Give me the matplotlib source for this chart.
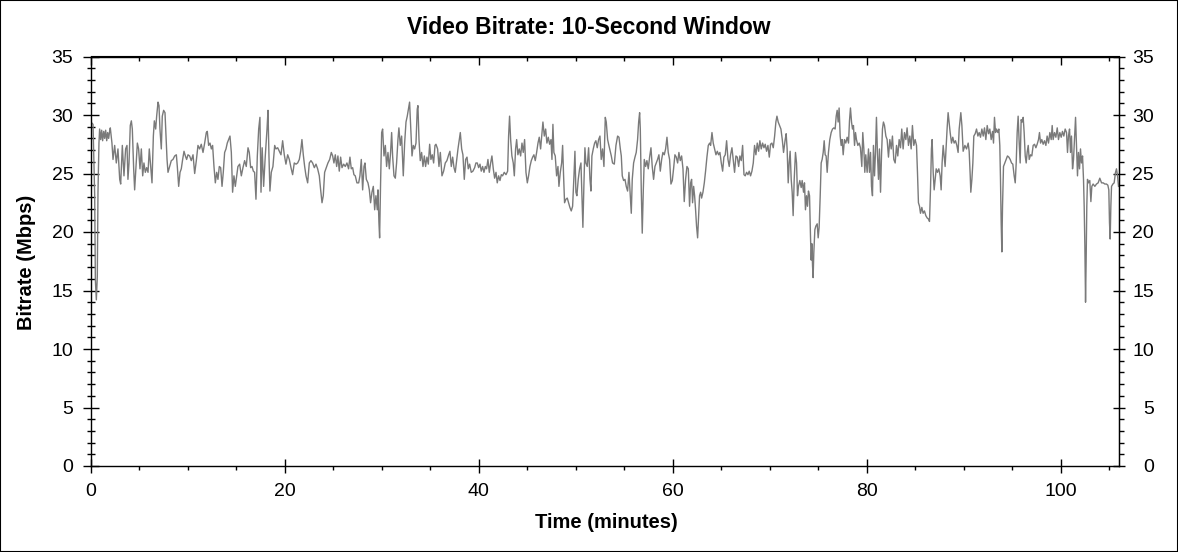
import numpy as np
import matplotlib.pyplot as plt
from matplotlib.ticker import MultipleLocator
from matplotlib.patches import Rectangle

plt.rcParams['font.family'] = ['Liberation Sans', 'DejaVu Sans']

# bitrate readings (minutes, Mbps) in six stretches
part1_min = [0.10, 0.21, 0.38, 0.45, 0.55, 0.65, 0.72, 0.82, 0.89, 1.00,
             1.10, 1.20, 1.31, 1.41, 1.51, 1.62, 1.72, 1.82, 1.92, 1.99,
             2.16, 2.27, 2.44, 2.61, 2.78, 2.96, 3.06, 3.23, 3.40, 3.57,
             3.71, 3.81, 3.92, 4.05, 4.16, 4.26, 4.40, 4.50, 4.64, 4.78,
             4.91, 5.05, 5.19, 5.33, 5.46, 5.60, 5.74, 5.88, 6.01, 6.15,
             6.29, 6.43, 6.53, 6.67, 6.77, 6.91, 7.01, 7.11, 7.25, 7.35,
             7.49, 7.63, 7.73, 7.84, 7.94, 8.11, 8.28, 8.45, 8.63, 8.80,
             8.90, 9.04, 9.18, 9.31, 9.45, 9.59, 9.73, 9.86, 10.00, 10.17,
             10.34, 10.52, 10.69, 10.86, 11.03, 11.20, 11.37, 11.55, 11.72, 11.89,
             11.99, 12.13, 12.27, 12.41, 12.54, 12.68, 12.82, 12.96, 13.09, 13.23,
             13.37, 13.51, 13.64, 13.78, 13.92, 14.05, 14.19, 14.33, 14.47, 14.60,
             14.74, 14.88, 15.02, 15.15, 15.33, 15.50, 15.67, 15.84, 16.01, 16.19,
             16.32, 16.46, 16.60, 16.74, 16.87, 17.01, 17.15, 17.29, 17.42, 17.53]
part1_mbps = [29.3, 29.2, 23.1, 15.9, 14.2, 16.2, 23.4, 27.6, 28.8, 27.9,
              28.7, 27.8, 28.6, 28.0, 28.7, 27.8, 28.5, 28.0, 28.6, 28.9,
              27.6, 26.2, 27.4, 25.9, 27.1, 24.5, 24.1, 27.4, 24.8, 27.1,
              27.4, 24.5, 25.9, 29.1, 29.5, 28.8, 25.4, 23.6, 25.6, 27.6,
              27.1, 25.4, 27.1, 24.8, 25.9, 25.1, 25.5, 25.1, 27.1, 25.6,
              24.2, 28.2, 29.5, 28.8, 29.9, 31.1, 30.8, 28.8, 27.1, 29.9,
              30.4, 30.2, 28.2, 26.2, 25.1, 25.6, 26.1, 26.2, 26.5, 26.6,
              25.6, 23.9, 25.1, 25.4, 26.2, 26.9, 26.5, 26.2, 26.6, 26.5,
              26.1, 26.6, 25.0, 26.1, 27.4, 27.1, 27.5, 26.8, 27.6, 28.5,
              28.6, 27.4, 27.6, 27.1, 27.4, 25.6, 24.2, 25.1, 24.5, 25.6,
              25.5, 23.9, 25.1, 26.8, 27.1, 27.6, 27.9, 28.2, 26.8, 23.4,
              24.8, 23.9, 24.8, 25.6, 25.8, 24.8, 25.5, 26.1, 25.6, 27.2,
              26.8, 25.5, 25.6, 25.2, 25.1, 22.8, 26.5, 28.8, 29.8, 23.4]

part2_min = [17.65, 17.80, 17.97, 18.15, 18.25, 18.35, 18.45, 18.59, 18.76, 18.94,
             19.07, 19.25, 19.42, 19.59, 19.76, 19.93, 20.10, 20.28, 20.45, 20.62,
             20.79, 20.96, 21.14, 21.31, 21.48, 21.62, 21.75, 21.89, 22.03, 22.17,
             22.34, 22.51, 22.68, 22.85, 23.03, 23.20, 23.37, 23.54, 23.68, 23.82,
             23.95, 24.09, 24.26, 24.43, 24.61, 24.78, 24.92, 25.05, 25.19, 25.33,
             25.46, 25.60, 25.74, 25.88, 26.05, 26.22, 26.39, 26.56, 26.70, 26.84,
             26.98, 27.11, 27.25, 27.42, 27.60, 27.73, 27.87, 28.01, 28.15, 28.25,
             28.39, 28.56, 28.70, 28.83, 28.97, 29.11, 29.25, 29.38, 29.52, 29.59,
             29.69, 29.76, 29.86, 29.97, 30.07, 30.21, 30.35, 30.48, 30.62, 30.76,
             30.89, 31.00, 31.10, 31.24, 31.38, 31.51, 31.65, 31.75, 31.89, 32.03,
             32.20, 32.34, 32.48, 32.61, 32.75, 32.85, 32.96, 33.10, 33.23, 33.37,
             33.51, 33.64, 33.71, 33.82, 33.95, 34.09, 34.23, 34.37, 34.50, 34.64,
             34.78, 34.92, 35.05, 35.19, 35.33, 35.47]
part2_mbps = [27.2, 23.9, 26.5, 28.8, 30.4, 26.5, 23.5, 25.1, 25.6, 27.4,
              27.1, 27.2, 26.9, 26.6, 27.8, 26.6, 25.8, 26.6, 26.2, 25.5,
              24.9, 25.9, 25.8, 25.9, 26.2, 26.9, 27.9, 26.6, 25.6, 24.8,
              24.2, 25.9, 26.1, 25.9, 25.5, 25.8, 25.4, 24.8, 23.6, 22.5,
              23.1, 25.1, 25.5, 25.9, 26.2, 26.8, 26.5, 25.9, 26.6, 25.6,
              26.5, 25.2, 26.4, 25.5, 25.8, 25.6, 25.9, 25.4, 26.4, 25.4,
              25.5, 24.9, 24.8, 24.2, 24.2, 24.8, 26.2, 23.6, 25.6, 25.9,
              24.5, 24.2, 23.6, 22.5, 23.4, 23.9, 21.9, 23.1, 21.9, 23.6,
              20.8, 19.5, 24.2, 28.5, 28.8, 26.5, 27.4, 25.6, 26.8, 25.4,
              26.8, 28.5, 26.5, 24.8, 24.6, 25.9, 27.9, 28.9, 27.4, 28.2,
              24.8, 27.6, 29.4, 29.9, 30.6, 31.1, 29.1, 26.5, 27.4, 27.1,
              27.6, 30.5, 30.8, 27.9, 26.1, 26.8, 25.6, 26.5, 25.6, 26.4,
              25.8, 27.5, 26.2, 26.6, 25.9, 27.4]

part3_min = [35.57, 35.74, 35.88, 36.02, 36.19, 36.36, 36.53, 36.70, 36.88, 37.01,
             37.15, 37.29, 37.43, 37.56, 37.70, 37.84, 37.98, 38.08, 38.22, 38.35,
             38.49, 38.63, 38.77, 38.90, 39.04, 39.21, 39.38, 39.56, 39.69, 39.83,
             39.97, 40.11, 40.24, 40.38, 40.52, 40.66, 40.79, 40.93, 41.07, 41.21,
             41.34, 41.48, 41.62, 41.76, 41.89, 42.03, 42.17, 42.31, 42.44, 42.61,
             42.79, 42.96, 43.06, 43.16, 43.27, 43.40, 43.54, 43.65, 43.78, 43.89,
             44.02, 44.16, 44.30, 44.44, 44.57, 44.71, 44.85, 44.99, 45.12, 45.26,
             45.40, 45.54, 45.67, 45.81, 45.95, 46.09, 46.22, 46.36, 46.50, 46.60,
             46.74, 46.88, 47.01, 47.15, 47.29, 47.43, 47.53, 47.63, 47.73, 47.87,
             48.01, 48.15, 48.25, 48.39, 48.53, 48.63, 48.73, 48.83, 48.97, 49.11,
             49.25, 49.38, 49.52, 49.66, 49.80, 49.90, 50.00, 50.10, 50.24, 50.38,
             50.52, 50.62, 50.72, 50.83, 50.93, 51.03, 51.17, 51.31, 51.45, 51.55,
             51.65, 51.79, 51.93, 52.06, 52.20, 52.34, 52.48, 52.61, 52.75, 52.89,
             53.03, 53.13, 53.27, 53.40]
part3_mbps = [27.5, 27.1, 25.6, 26.8, 24.8, 25.2, 25.9, 26.1, 26.6, 26.9,
              25.6, 26.4, 25.5, 25.1, 26.1, 27.1, 27.9, 28.5, 27.1, 26.6,
              24.5, 26.2, 26.4, 25.4, 25.8, 25.1, 25.2, 25.5, 25.9, 25.9,
              25.5, 25.8, 25.2, 25.6, 25.1, 25.6, 25.4, 26.2, 25.1, 25.9,
              26.5, 25.4, 24.6, 25.1, 24.2, 24.8, 24.4, 24.9, 24.8, 25.1,
              24.9, 25.2, 28.2, 29.9, 27.9, 26.5, 25.9, 24.8, 27.1, 27.9,
              26.6, 27.1, 26.5, 27.6, 26.8, 27.9, 25.1, 24.2, 24.8, 25.6,
              26.1, 26.4, 26.6, 26.1, 26.8, 27.6, 28.1, 27.1, 28.5, 29.4,
              28.2, 28.8, 27.6, 28.1, 27.5, 27.9, 26.2, 29.2, 26.8, 26.5,
              24.8, 25.6, 23.9, 25.1, 25.9, 27.4, 24.8, 22.5, 22.8, 22.9,
              22.5, 22.1, 21.8, 22.2, 24.8, 26.9, 23.4, 23.1, 24.5, 25.4,
              25.9, 23.1, 20.4, 24.2, 27.2, 25.9, 25.6, 27.2, 24.5, 23.5,
              26.5, 27.1, 27.6, 27.8, 27.2, 27.9, 28.2, 26.2, 27.1, 25.6,
              29.8, 29.4, 27.9, 27.4]

part4_min = [53.65, 53.78, 53.96, 54.13, 54.30, 54.44, 54.58, 54.68, 54.78, 54.92,
             55.06, 55.19, 55.33, 55.47, 55.61, 55.71, 55.81, 55.95, 56.09, 56.22,
             56.36, 56.47, 56.57, 56.64, 56.74, 56.84, 56.95, 57.05, 57.19, 57.32,
             57.46, 57.60, 57.74, 57.87, 58.01, 58.15, 58.29, 58.42, 58.56, 58.70,
             58.84, 58.97, 59.11, 59.25, 59.39, 59.52, 59.66, 59.80, 59.94, 60.07,
             60.21, 60.35, 60.49, 60.62, 60.76, 60.90, 61.04, 61.17, 61.31, 61.45,
             61.59, 61.72, 61.83, 61.93, 62.03, 62.14, 62.24, 62.34, 62.44, 62.55,
             62.65, 62.75, 62.86, 62.96, 63.10, 63.24, 63.37, 63.51, 63.65, 63.79,
             63.89, 64.03, 64.16, 64.30, 64.44, 64.58, 64.71, 64.85, 64.99, 65.13,
             65.26, 65.40, 65.54, 65.68, 65.81, 65.95, 66.09, 66.23, 66.36, 66.50,
             66.64, 66.78, 66.91, 67.05, 67.19, 67.33, 67.46, 67.60, 67.74, 67.87,
             68.01, 68.15, 68.29, 68.42, 68.56, 68.70, 68.84, 68.97, 69.11, 69.25,
             69.39, 69.52, 69.66, 69.80, 69.94, 70.07, 70.21, 70.35, 70.49, 70.62,
             70.73, 70.86, 71.00, 71.14, 71.28, 71.41]
part4_mbps = [26.5, 25.9, 25.8, 27.4, 28.2, 28.1, 27.1, 26.5, 24.8, 24.4,
              24.5, 23.9, 23.5, 25.1, 23.1, 21.6, 24.5, 25.9, 26.4, 26.8,
              27.9, 29.4, 30.2, 28.8, 23.6, 19.9, 23.6, 26.2, 25.6, 26.1,
              25.4, 26.4, 27.2, 25.6, 24.5, 25.6, 25.9, 26.2, 26.6, 25.2,
              26.2, 26.8, 26.6, 27.1, 28.1, 26.8, 26.2, 24.1, 24.4, 25.4,
              26.6, 26.4, 25.9, 26.8, 26.1, 26.5, 25.4, 22.6, 24.5, 25.6,
              25.4, 22.2, 24.2, 24.5, 22.5, 23.9, 23.1, 21.9, 20.5, 19.5,
              21.4, 23.1, 23.4, 22.9, 23.4, 24.2, 25.2, 26.4, 27.4, 27.6,
              27.4, 28.5, 27.6, 27.1, 26.6, 26.9, 26.6, 26.8, 25.9, 25.2,
              26.4, 26.6, 27.8, 26.2, 25.6, 26.6, 27.2, 26.1, 25.1, 26.5,
              26.4, 25.6, 26.5, 26.1, 27.4, 24.9, 24.8, 25.1, 24.9, 25.2,
              24.8, 25.2, 25.9, 27.4, 26.6, 27.6, 26.9, 27.8, 27.1, 27.6,
              27.2, 27.5, 26.9, 27.4, 26.4, 27.5, 27.6, 27.2, 28.2, 29.4,
              29.9, 29.4, 29.1, 28.8, 27.9, 26.8]

part5_min = [71.58, 71.68, 71.78, 71.89, 71.99, 72.09, 72.20, 72.30, 72.40, 72.51,
             72.64, 72.75, 72.85, 72.95, 73.09, 73.23, 73.33, 73.47, 73.57, 73.67,
             73.78, 73.88, 73.98, 74.09, 74.19, 74.26, 74.33, 74.40, 74.46, 74.53,
             74.64, 74.74, 74.88, 74.98, 75.08, 75.19, 75.29, 75.39, 75.50, 75.60,
             75.70, 75.80, 75.91, 76.04, 76.18, 76.32, 76.46, 76.60, 76.73, 76.84,
             76.94, 77.04, 77.14, 77.25, 77.35, 77.45, 77.56, 77.69, 77.83, 77.97,
             78.11, 78.21, 78.31, 78.42, 78.52, 78.62, 78.73, 78.83, 78.93, 79.07,
             79.21, 79.34, 79.48, 79.58, 79.69, 79.79, 79.89, 80.03, 80.17, 80.27,
             80.38, 80.48, 80.58, 80.68, 80.79, 80.89, 80.99, 81.10, 81.20, 81.30,
             81.41, 81.51, 81.61, 81.71, 81.82, 81.96, 82.09, 82.23, 82.37, 82.51,
             82.64, 82.78, 82.92, 83.06, 83.19, 83.33, 83.47, 83.60, 83.74, 83.88,
             84.02, 84.15, 84.29, 84.43, 84.57, 84.70, 84.84, 84.98, 85.12, 85.22,
             85.32, 85.43, 85.53, 85.67, 85.80, 85.94, 86.08, 86.22, 86.36, 86.46,
             86.56, 86.66, 86.73, 86.84, 86.94, 87.04, 87.15, 87.28, 87.42, 87.56,
             87.66, 87.76, 87.87, 87.97, 88.07, 88.18, 88.28, 88.38, 88.48, 88.59,
             88.73, 88.86, 89.00, 89.14, 89.28, 89.41, 89.52]
part5_mbps = [27.9, 28.4, 27.1, 24.2, 25.9, 26.9, 24.5, 23.4, 21.4, 24.5,
              26.8, 25.9, 23.1, 23.9, 24.4, 23.8, 24.4, 23.4, 24.2, 21.9,
              23.1, 22.2, 23.5, 23.1, 19.6, 17.6, 19.0, 17.1, 16.1, 18.2,
              20.2, 20.5, 20.7, 19.5, 20.4, 23.1, 25.9, 26.2, 26.8, 27.8,
              26.6, 26.5, 25.1, 26.8, 27.9, 28.5, 28.8, 28.9, 28.8, 29.9,
              30.4, 29.4, 30.6, 28.2, 27.4, 27.9, 26.6, 27.9, 27.6, 28.1,
              27.6, 29.5, 30.6, 29.4, 28.8, 29.1, 27.4, 28.5, 27.9, 27.4,
              27.6, 27.2, 25.6, 28.5, 27.1, 25.1, 26.6, 25.1, 27.1, 25.1,
              26.8, 23.9, 23.1, 27.4, 24.8, 26.8, 29.8, 26.5, 24.5, 27.1,
              23.4, 26.5, 28.8, 29.4, 29.1, 28.2, 27.9, 26.4, 27.9, 27.1,
              28.2, 26.2, 25.9, 27.4, 26.5, 27.9, 27.2, 28.8, 27.1, 28.5,
              27.9, 28.9, 27.4, 28.2, 27.1, 29.1, 27.4, 27.9, 27.4, 25.1,
              22.5, 22.2, 21.6, 22.1, 21.6, 21.8, 21.4, 21.2, 21.1, 20.9,
              23.6, 27.1, 27.9, 25.1, 23.6, 24.5, 25.4, 25.1, 25.4, 24.8,
              23.6, 25.9, 27.4, 26.5, 25.6, 27.4, 28.9, 30.2, 29.4, 28.5,
              27.6, 28.1, 27.6, 27.8, 27.4, 26.8, 28.8]

part6_min = [89.69, 89.80, 89.93, 90.11, 90.28, 90.45, 90.55, 90.66, 90.72, 90.83,
             90.93, 91.03, 91.17, 91.31, 91.45, 91.58, 91.72, 91.86, 92.00, 92.13,
             92.27, 92.41, 92.55, 92.68, 92.82, 92.96, 93.06, 93.16, 93.27, 93.37,
             93.51, 93.61, 93.71, 93.78, 93.85, 93.92, 93.99, 94.09, 94.23, 94.37,
             94.50, 94.64, 94.78, 94.92, 95.05, 95.19, 95.30, 95.40, 95.50, 95.60,
             95.71, 95.81, 95.91, 96.02, 96.12, 96.22, 96.33, 96.43, 96.53, 96.64,
             96.74, 96.88, 97.01, 97.15, 97.29, 97.43, 97.56, 97.70, 97.80, 97.91,
             98.04, 98.18, 98.32, 98.46, 98.59, 98.73, 98.87, 99.01, 99.11, 99.21,
             99.35, 99.49, 99.63, 99.76, 99.90, 100.04, 100.17, 100.31, 100.45, 100.59,
             100.69, 100.79, 100.90, 101.00, 101.10, 101.21, 101.31, 101.41, 101.52, 101.62,
             101.72, 101.82, 101.93, 102.03, 102.13, 102.24, 102.34, 102.41, 102.48, 102.55,
             102.61, 102.68, 102.75, 102.86, 102.99, 103.10, 103.20, 103.33, 103.51, 103.68,
             103.85, 104.02, 104.20, 104.37, 104.54, 104.71, 104.85, 104.95, 105.02, 105.09,
             105.16, 105.23, 105.37, 105.50, 105.64, 105.74, 105.85, 105.95]
part6_mbps = [30.2, 29.1, 26.9, 27.4, 27.1, 27.6, 26.9, 24.8, 23.4, 24.5,
              25.9, 28.2, 28.4, 28.8, 28.2, 28.5, 28.1, 28.8, 28.2, 28.9,
              27.9, 29.1, 28.4, 28.8, 27.9, 28.6, 27.6, 29.8, 28.5, 28.8,
              28.5, 28.8, 27.4, 24.5, 20.8, 18.3, 22.2, 25.6, 25.9, 26.2,
              26.5, 26.4, 26.2, 25.9, 25.8, 24.8, 24.2, 25.9, 28.5, 29.9,
              27.6, 25.9, 29.6, 29.4, 29.8, 28.5, 26.5, 25.9, 26.8, 27.4,
              26.2, 26.6, 26.5, 27.4, 27.5, 27.2, 27.5, 27.9, 28.5, 27.6,
              27.9, 27.5, 27.8, 27.4, 28.2, 27.6, 28.5, 27.9, 29.1, 27.9,
              28.5, 28.1, 28.9, 27.9, 28.5, 28.1, 28.6, 28.2, 28.8, 28.5,
              26.8, 28.2, 28.8, 26.8, 28.2, 25.4, 26.2, 27.9, 29.8, 27.4,
              24.8, 26.8, 25.4, 27.1, 25.9, 26.5, 24.5, 22.2, 18.8, 14.0,
              17.4, 22.2, 24.5, 24.2, 24.4, 22.6, 23.9, 24.1, 23.9, 24.1,
              24.2, 24.6, 24.2, 24.2, 24.1, 24.1, 24.0, 23.6, 20.8, 19.4,
              22.2, 23.9, 24.1, 24.2, 25.1, 25.4, 24.8, 23.9]

minutes = np.concatenate([part1_min, part2_min, part3_min,
                          part4_min, part5_min, part6_min])
mbps = np.concatenate([part1_mbps, part2_mbps, part3_mbps,
                       part4_mbps, part5_mbps, part6_mbps])

x_major = np.arange(0, 101, 20)
x_minor = np.arange(0, 106, 5)
y_major = np.arange(0, 36, 5)
y_minor = np.arange(0, 36, 1)

fig = plt.figure(figsize=(11.78, 5.52), dpi=100)
ax = fig.add_axes([91 / 1178, 86 / 552, 1028 / 1178, 409.5 / 552])

ax.plot(minutes, mbps, color='#7a7a7a', lw=1.0)

ax.set_xlim(0, 106)
ax.set_ylim(0, 35)
ax.set_xticks(x_major)
ax.set_xticks(x_minor, minor=True)
ax.set_yticks(y_major)
ax.set_yticks(y_minor, minor=True)

for s in ax.spines.values():
    s.set_linewidth(1.0)

ax.tick_params(axis='x', which='major', direction='inout', length=10,
               width=1, labelsize=14, pad=7)
ax.tick_params(axis='x', which='minor', direction='out', length=3, width=1)
ax.tick_params(axis='y', which='major', direction='inout', length=11.5,
               width=1, labelsize=14, pad=7)
ax.tick_params(axis='y', which='minor', direction='inout', length=5.8, width=1)

# top axis: ticks only, pointing in
top = ax.secondary_xaxis('top')
top.set_xticks(x_major)
top.set_xticks(x_minor, minor=True)
top.tick_params(which='major', direction='in', length=6.5, width=1, labeltop=False)
top.tick_params(which='minor', direction='in', length=3.6, width=1)

# right axis: repeats the bitrate scale
right = ax.secondary_yaxis('right')
right.set_yticks(y_major)
right.set_yticks(y_minor, minor=True)
right.tick_params(which='major', direction='inout', length=8.6, width=1,
                  labelsize=14, pad=21)
right.tick_params(which='minor', direction='out', length=3.6, width=1)
for lab in right.get_yticklabels():
    lab.set_horizontalalignment('right')

fig.text(0.5, 1 - 27 / 552, 'Video Bitrate: 10-Second Window',
         ha='center', va='center', fontsize=16.5, fontweight='bold')
fig.text(606 / 1178, 1 - 523 / 552, 'Time (minutes)',
         ha='center', va='center', fontsize=14.5, fontweight='bold')
fig.text(26 / 1178, 1 - 262 / 552, 'Bitrate (Mbps)', rotation=90,
         ha='center', va='center', fontsize=14.5, fontweight='bold')

fig.add_artist(Rectangle((0, 0), 1, 1, transform=fig.transFigure,
                         fill=False, edgecolor='black', lw=1.5))

fig.savefig('out.png', dpi=100, facecolor='white')
